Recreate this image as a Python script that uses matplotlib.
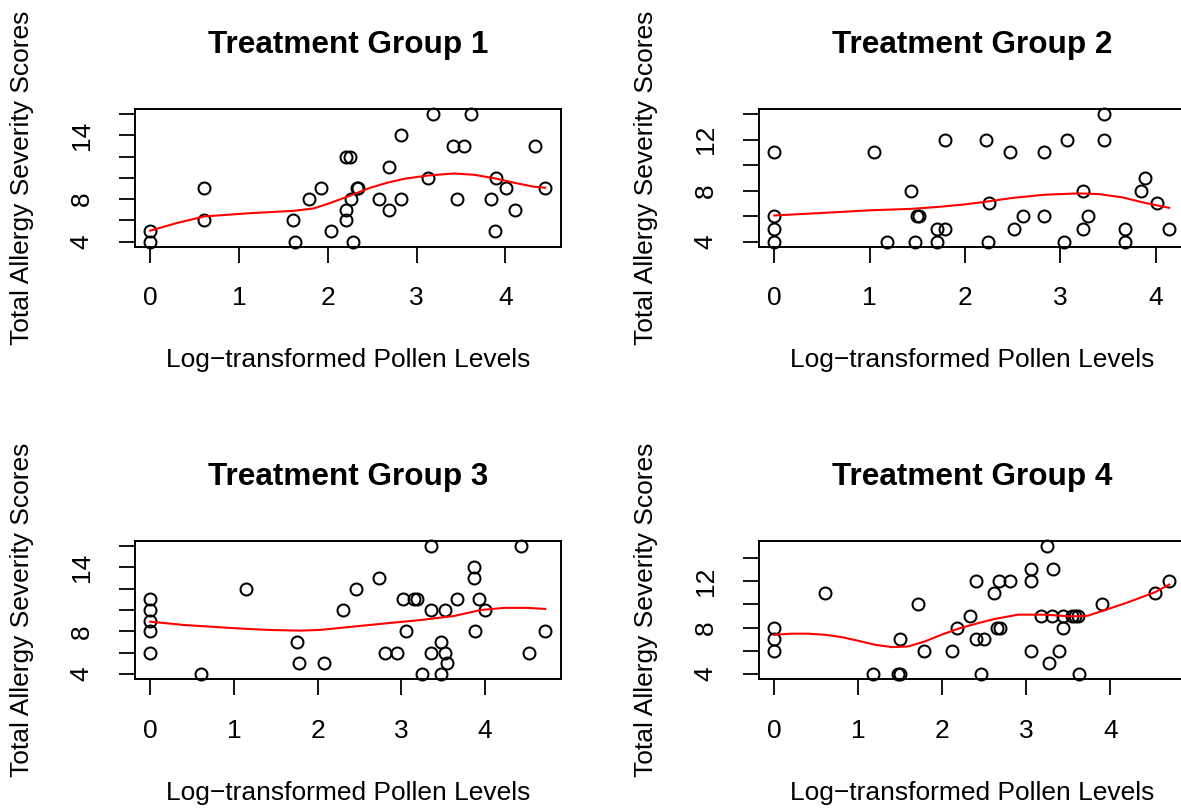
import numpy as np
import matplotlib
matplotlib.use("Agg")
import matplotlib.pyplot as plt

plt.rcParams['font.family'] = ['Liberation Sans', 'DejaVu Sans']

# ---------------- data ----------------
titles = ["Treatment Group 1", "Treatment Group 2", "Treatment Group 3", "Treatment Group 4"]
xlabel = "Log\u2212transformed Pollen Levels"
ylabel = "Total Allergy Severity Scores"

x1 = [0, 0, 0.61, 0.61, 1.61, 1.63, 1.79, 1.92, 2.04, 2.20, 2.25, 2.20, 2.20, 2.26, 2.28, 2.33, 2.34,
      2.58, 2.69, 2.69, 2.83, 2.83, 3.13, 3.19, 3.41, 3.54, 3.61, 3.46, 3.84, 3.88, 3.89, 4.01, 4.11, 4.33, 4.45]
y1 = [4, 5, 9, 6, 6, 4, 8, 9, 5, 12, 12, 7, 6, 8, 4, 9, 9,
      8, 11, 7, 14, 8, 10, 16, 13, 13, 16, 8, 8, 5, 10, 9, 7, 13, 9]

x2 = [0, 0, 0, 0, 1.05, 1.18, 1.43, 1.50, 1.52, 1.48, 1.71, 1.79, 1.71, 1.79, 2.22, 2.25, 2.24, 2.47,
      2.51, 2.61, 2.83, 2.83, 3.04, 3.07, 3.24, 3.24, 3.29, 3.46, 3.46, 3.68, 3.68, 3.84, 3.89, 4.01, 4.14]
y2 = [4, 5, 6, 11, 11, 4, 8, 6, 6, 4, 5, 5, 4, 12, 12, 7, 4, 11,
      5, 6, 11, 6, 4, 12, 8, 5, 6, 14, 12, 5, 4, 8, 9, 7, 5]

x3 = [0, 0, 0, 0, 0, 0.61, 1.14, 1.75, 1.78, 2.08, 2.30, 2.46, 2.73, 2.81, 2.95, 3.02, 3.06, 3.15, 3.19,
      3.25, 3.35, 3.35, 3.35, 3.47, 3.52, 3.52, 3.55, 3.47, 3.66, 3.87, 3.87, 3.93, 4.00, 3.88, 4.43, 4.53, 4.72]
y3 = [11, 10, 9, 8, 6, 4, 12, 7, 5, 5, 10, 12, 13, 6, 6, 11, 8, 11, 11,
      4, 16, 10, 6, 7, 10, 6, 5, 4, 11, 14, 13, 11, 10, 8, 16, 6, 8]

x4 = [0, 0, 0, 0.60, 1.17, 1.47, 1.50, 1.50, 1.71, 1.78, 2.11, 2.17, 2.33, 2.40, 2.40, 2.50, 2.46, 2.61,
      2.67, 2.65, 2.69, 2.81, 3.05, 3.05, 3.05, 3.25, 3.32, 3.18, 3.31, 3.27, 3.39, 3.44, 3.44, 3.54, 3.58,
      3.61, 3.63, 3.90, 4.53, 4.70]
y4 = [8, 7, 6, 11, 4, 4, 4, 7, 10, 6, 6, 8, 9, 12, 7, 7, 4, 11,
      12, 8, 8, 12, 13, 12, 6, 15, 13, 9, 9, 5, 6, 9, 8, 9, 9,
      9, 4, 10, 11, 12]

# red smoothing curves
cx1 = [0, 0.30, 0.61, 1.13, 1.61, 1.84, 2.00, 2.14, 2.29, 2.48, 2.67, 2.86, 3.13, 3.42, 3.65, 3.89, 4.10, 4.32, 4.45]
cy1 = [5.03, 5.75, 6.37, 6.68, 6.89, 7.12, 7.55, 7.98, 8.45, 9.07, 9.54, 9.91, 10.22, 10.41, 10.29, 9.94, 9.54, 9.17, 9.07]

cx2 = [0, 0.53, 1.02, 1.44, 1.72, 2.00, 2.25, 2.49, 2.84, 3.19, 3.40, 3.65, 3.89, 4.14]
cy2 = [6.05, 6.26, 6.46, 6.57, 6.72, 6.92, 7.16, 7.42, 7.68, 7.78, 7.73, 7.47, 7.03, 6.65]

cx3 = [0, 0.40, 1.00, 1.40, 1.79, 2.03, 2.43, 2.83, 3.23, 3.63, 3.95, 4.23, 4.51, 4.72]
cy3 = [8.91, 8.60, 8.30, 8.14, 8.07, 8.14, 8.45, 8.76, 9.06, 9.44, 10.0, 10.2, 10.2, 10.1]

cx4 = [0, 0.20, 0.40, 0.60, 0.80, 1.00, 1.20, 1.40, 1.59, 1.79, 1.99, 2.20, 2.43, 2.62, 2.90, 3.22,
       3.54, 3.73, 3.89, 4.21, 4.53, 4.70]
cy4 = [7.38, 7.47, 7.47, 7.38, 7.18, 6.86, 6.52, 6.32, 6.37, 6.80, 7.38, 7.92, 8.38, 8.73, 9.10, 9.10,
       8.95, 9.01, 9.38, 10.16, 11.02, 11.68]

xticks = [0, 1, 2, 3, 4]
yticks_list = [[4, 6, 8, 10, 12, 14, 16], [4, 6, 8, 10, 12, 14],
               [4, 6, 8, 10, 12, 14, 16], [4, 6, 8, 10, 12, 14]]
ylabels_shown = [[4, 8, 14], [4, 8, 12], [4, 8, 14], [4, 8, 12]]

W, H = 1181, 809
fig = plt.figure(figsize=(W / 100, H / 100), dpi=100)
fig.patch.set_facecolor("white")

# pixel boxes (left, right, top, bottom)
boxes = [(134.5, 561.0, 109.0, 246.7), (758.5, 1185.0, 109.0, 246.7),
         (134.5, 561.0, 540.7, 679.3), (758.5, 1185.0, 540.7, 679.3)]
ylabel_x = [22.5, 646.5, 22.5, 646.5]
data = [(x1, y1), (x2, y2), (x3, y3), (x4, y4)]
curves = [(cx1, cy1), (cx2, cy2), (cx3, cy3), (cx4, cy4)]

for k in range(4):
    l, r, t, b = boxes[k]
    ax = fig.add_axes([l / W, 1 - b / H, (r - l) / W, (b - t) / H])
    xs, ys = data[k]
    xs_a, ys_a = np.asarray(xs, float), np.asarray(ys, float)
    ax.plot(xs_a, ys_a, linestyle="none", marker="o", ms=8.6, mfc="none",
            mec="black", mew=1.45, clip_on=False)
    cx, cy = curves[k]
    ax.plot(cx, cy, color="red", lw=1.5, clip_on=False, solid_joinstyle="round")
    xr = xs_a.max() - xs_a.min()
    yr = ys_a.max() - ys_a.min()
    ax.set_xlim(xs_a.min() - 0.04 * xr, xs_a.max() + 0.04 * xr)
    ax.set_ylim(ys_a.min() - 0.04 * yr, ys_a.max() + 0.04 * yr)

    ax.set_xticks(xticks)
    ax.set_xticklabels([str(v) for v in xticks], fontsize=19)
    yt = yticks_list[k]
    ax.set_yticks(yt)
    ax.set_yticklabels([str(v) if v in ylabels_shown[k] else "" for v in yt],
                       fontsize=19, rotation=90, va="center")
    ax.tick_params(axis="both", direction="out", length=11.5, width=1.3, color="black")
    ax.tick_params(axis="x", pad=17)
    ax.tick_params(axis="y", pad=18)
    for s in ax.spines.values():
        s.set_linewidth(1.4)
        s.set_color("black")

    ah = b - t
    aw = r - l
    ax.set_xlabel(xlabel, fontsize=19)
    ax.xaxis.set_label_coords(0.5, -113.3 / ah)
    ax.xaxis.label.set_va("center")
    ax.set_ylabel(ylabel, fontsize=19)
    ax.yaxis.set_label_coords((ylabel_x[k] - l) / aw, 0.5)
    ax.yaxis.label.set_va("center")
    ax.yaxis.label.set_ha("center")
    ax.set_title(titles[k], fontsize=22.7, fontweight="bold", y=(ah + 64) / ah, pad=0, va="center")

fig.savefig("out.png", dpi=100, facecolor="white")
